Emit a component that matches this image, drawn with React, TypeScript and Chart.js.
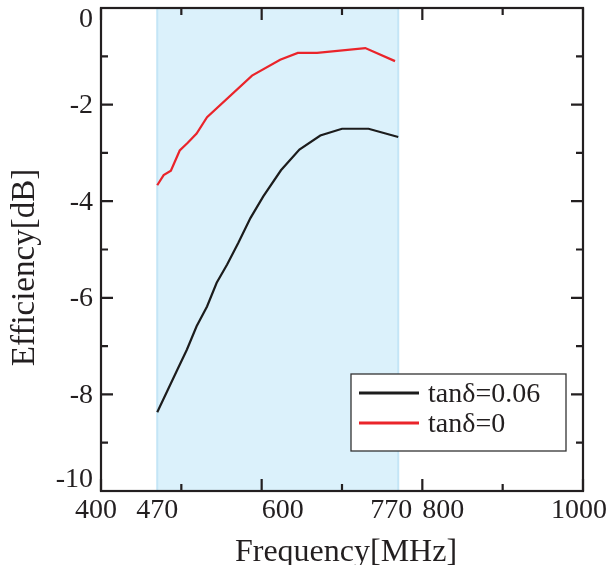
import React, { useEffect, useRef } from "react";
import { Chart, registerables } from "chart.js";

Chart.register(...registerables);

// ---- data ----
const lossyFreq = [470, 495, 507, 519, 532, 544, 557, 571, 586, 602, 624, 647, 673, 700, 733, 770];
const lossyEff = [-8.37, -7.49, -7.07, -6.59, -6.18, -5.69, -5.31, -4.86, -4.35, -3.9, -3.36, -2.93, -2.64, -2.5, -2.5, -2.67];
const losslessFreq = [470, 478, 487, 498, 508, 519, 532, 588, 623, 645, 669, 729, 766];
const losslessEff = [-3.67, -3.46, -3.37, -2.95, -2.79, -2.6, -2.26, -1.4, -1.07, -0.93, -0.93, -0.83, -1.1];
const seriesNames = ["tanδ=0.06", "tanδ=0"];
const bandRange = [470, 770];
const xMajorTicks = [400, 600, 800, 1000];
const xMinorTicks = [500, 700, 900];
const xTickLabels = [400, 470, 600, 770, 800, 1000];
const yMajorTicks = [0, -2, -4, -6, -8, -10];
const yMinorTicks = [-1, -3, -5, -7, -9];
const yTickLabels = [0, -2, -4, -6, -8, -10];

const RED = "rgb(234,36,42)";
const BLACK = "#1c1c1c";
const AXIS = "#231f20";
const SERIF = "'Liberation Serif', 'Times New Roman', serif";

// label alignment / nudge for the hand-placed x tick labels
const xLabelAlign: Record<number, CanvasTextAlign> = {
  400: "center",
  470: "center",
  600: "left",
  770: "center",
  800: "left",
  1000: "center",
};
const xLabelNudge: Record<number, number> = { 400: -5, 770: -7, 1000: -4 };

const decorPlugin = {
  id: "decor",
  beforeDatasetsDraw(chart: any) {
    const { ctx, chartArea, scales } = chart;
    const x0 = scales.x.getPixelForValue(bandRange[0]);
    const x1 = scales.x.getPixelForValue(bandRange[1]);
    ctx.save();
    ctx.fillStyle = "rgb(219,241,251)";
    ctx.fillRect(x0, chartArea.top, x1 - x0, chartArea.bottom - chartArea.top);
    ctx.strokeStyle = "rgb(196,229,246)";
    ctx.lineWidth = 2;
    ctx.beginPath();
    ctx.moveTo(x0, chartArea.top);
    ctx.lineTo(x0, chartArea.bottom);
    ctx.moveTo(x1, chartArea.top);
    ctx.lineTo(x1, chartArea.bottom);
    ctx.stroke();
    ctx.restore();
  },
  afterDraw(chart: any) {
    const { ctx, chartArea, scales } = chart;
    const { left, right, top, bottom } = chartArea;
    const xs = scales.x;
    const ys = scales.y;
    ctx.save();
    ctx.strokeStyle = AXIS;
    ctx.lineWidth = 2.2;
    ctx.strokeRect(left, top, right - left, bottom - top);
    const MAJ = 12;
    const MIN = 7;
    ctx.beginPath();
    const xt = (v: number, len: number) => {
      const p = xs.getPixelForValue(v);
      ctx.moveTo(p, bottom);
      ctx.lineTo(p, bottom - len);
      ctx.moveTo(p, top);
      ctx.lineTo(p, top + len);
    };
    const yt = (v: number, len: number) => {
      const p = ys.getPixelForValue(v);
      ctx.moveTo(left, p);
      ctx.lineTo(left + len, p);
      ctx.moveTo(right, p);
      ctx.lineTo(right - len, p);
    };
    xMajorTicks.forEach((v) => xt(v, MAJ));
    xMinorTicks.forEach((v) => xt(v, MIN));
    yMajorTicks.forEach((v) => yt(v, MAJ));
    yMinorTicks.forEach((v) => yt(v, MIN));
    ctx.stroke();

    // tick labels
    ctx.fillStyle = AXIS;
    ctx.font = `28px ${SERIF}`;
    ctx.textBaseline = "alphabetic";
    xTickLabels.forEach((v) => {
      ctx.textAlign = xLabelAlign[v] || "center";
      const dx = xLabelNudge[v] || 0;
      ctx.fillText(String(v), xs.getPixelForValue(v) + dx, bottom + 27);
    });
    ctx.textAlign = "right";
    ctx.textBaseline = "middle";
    yTickLabels.forEach((v) => {
      let p = ys.getPixelForValue(v);
      p = Math.min(Math.max(p, top + 11), bottom - 12);
      ctx.fillText(String(v), left - 8, p + 1);
    });

    // axis titles
    ctx.font = `32px ${SERIF}`;
    ctx.textAlign = "center";
    ctx.textBaseline = "alphabetic";
    ctx.fillText("Frequency[MHz]", (left + right) / 2 + 4, bottom + 70);
    ctx.save();
    ctx.translate(34, (top + bottom) / 2 + 18);
    ctx.rotate(-Math.PI / 2);
    ctx.font = `33px ${SERIF}`;
    ctx.fillText("Efficiency[dB]", 0, 0);
    ctx.restore();

    // legend
    const bx = right - 232;
    const by = bottom - 117;
    const bw = 215;
    const bh = 77;
    ctx.fillStyle = "#ffffff";
    ctx.fillRect(bx, by, bw, bh);
    ctx.strokeStyle = "#333333";
    ctx.lineWidth = 1.3;
    ctx.strokeRect(bx, by, bw, bh);
    const colors = [BLACK, RED];
    seriesNames.forEach((name, i) => {
      const ly = by + 19 + i * 30;
      ctx.strokeStyle = colors[i];
      ctx.lineWidth = 3;
      ctx.beginPath();
      ctx.moveTo(bx + 8, ly);
      ctx.lineTo(bx + 68, ly);
      ctx.stroke();
      ctx.fillStyle = AXIS;
      ctx.font = `28px ${SERIF}`;
      ctx.textAlign = "left";
      ctx.textBaseline = "alphabetic";
      ctx.fillText(name, bx + 77, ly + 9);
    });
    ctx.restore();
  },
};

export default function App() {
  const ref = useRef<HTMLCanvasElement | null>(null);
  useEffect(() => {
    if (!ref.current) return;
    const chart = new Chart(ref.current, {
      type: "line",
      data: {
        datasets: [
          {
            label: seriesNames[0],
            data: lossyFreq.map((f, i) => ({ x: f, y: lossyEff[i] })),
            borderColor: BLACK,
            borderWidth: 2.2,
            pointRadius: 0,
            tension: 0,
          },
          {
            label: seriesNames[1],
            data: losslessFreq.map((f, i) => ({ x: f, y: losslessEff[i] })),
            borderColor: RED,
            borderWidth: 2.2,
            pointRadius: 0,
            tension: 0,
          },
        ],
      },
      options: {
        animation: false,
        responsive: false,
        layout: { padding: { left: 101, right: 26, top: 8, bottom: 74 } },
        plugins: { legend: { display: false }, tooltip: { enabled: false } },
        scales: {
          x: { type: "linear", min: 400, max: 1000, display: false },
          y: { type: "linear", min: -10, max: 0, display: false },
        },
      },
      plugins: [decorPlugin],
    });
    return () => chart.destroy();
  }, []);
  return (
    <div style={{ position: "fixed", left: 0, top: 0, width: 609, height: 565, background: "#fff" }}>
      <canvas ref={ref} width={609} height={565} />
    </div>
  );
}
